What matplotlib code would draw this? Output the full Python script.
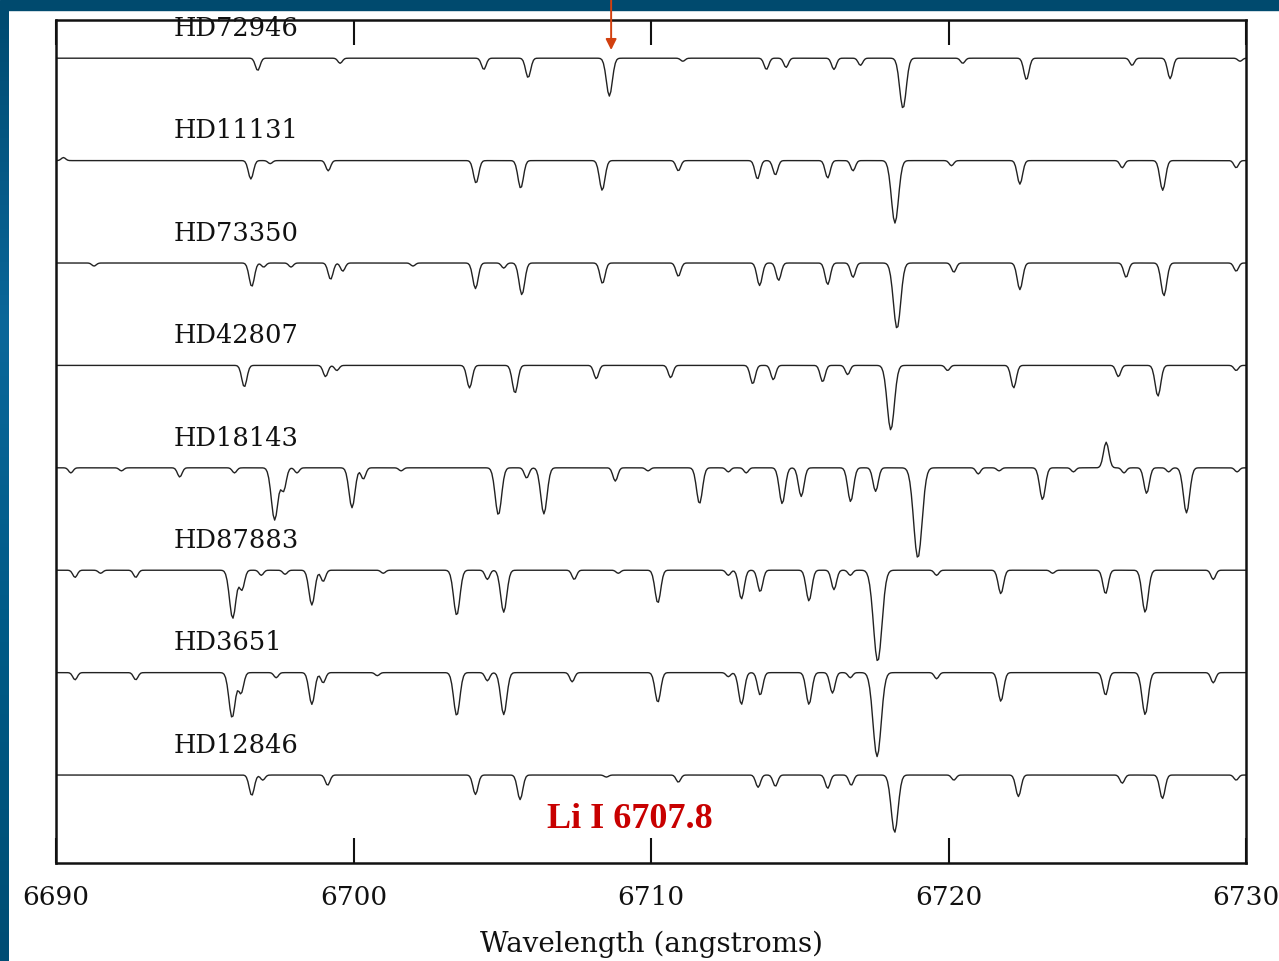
import numpy as np
import matplotlib
matplotlib.use('Agg')
import matplotlib.pyplot as plt
from matplotlib.colors import LinearSegmentedColormap

# star names, top to bottom
stars = ['HD72946', 'HD11131', 'HD73350', 'HD42807',
         'HD18143', 'HD87883', 'HD3651', 'HD12846']

# absorption lines per star: (wavelength in A, depth below continuum)
# negative depth = emission spike
lines_hd72946 = [(6696.78, 0.12), (6699.55, 0.05), (6704.38, 0.11), (6705.87, 0.19),
                 (6708.60, 0.37), (6711.07, 0.03), (6713.88, 0.11), (6714.54, 0.09),
                 (6716.15, 0.11), (6717.04, 0.07), (6718.47, 0.49), (6720.48, 0.05),
                 (6722.62, 0.21), (6726.17, 0.07), (6727.45, 0.20), (6729.80, 0.03)]
lines_hd11131 = [(6690.25, -0.03), (6696.55, 0.18), (6697.20, 0.03), (6699.15, 0.10),
                 (6704.12, 0.22), (6705.62, 0.27), (6708.36, 0.29), (6710.92, 0.10),
                 (6713.58, 0.18), (6714.18, 0.14), (6715.94, 0.17), (6716.79, 0.10),
                 (6718.20, 0.61), (6720.10, 0.05), (6722.40, 0.23), (6725.84, 0.07),
                 (6727.20, 0.29), (6729.67, 0.07)]
lines_hd73350 = [(6691.28, 0.03), (6696.58, 0.23), (6696.98, 0.04), (6697.90, 0.04),
                 (6699.23, 0.16), (6699.64, 0.08), (6702.00, 0.03), (6704.10, 0.25),
                 (6705.05, 0.05), (6705.66, 0.31), (6708.37, 0.20), (6710.92, 0.13),
                 (6713.65, 0.22), (6714.29, 0.17), (6715.94, 0.21), (6716.79, 0.14),
                 (6718.27, 0.64), (6720.18, 0.09), (6722.40, 0.26), (6725.97, 0.14),
                 (6727.24, 0.32), (6729.67, 0.08)]
lines_hd42807 = [(6696.33, 0.21), (6699.06, 0.11), (6699.44, 0.05), (6703.90, 0.22),
                 (6705.43, 0.27), (6708.16, 0.13), (6710.66, 0.12), (6713.42, 0.18),
                 (6714.11, 0.14), (6715.77, 0.16), (6716.61, 0.09), (6718.06, 0.63),
                 (6719.97, 0.05), (6722.19, 0.22), (6725.71, 0.11), (6727.04, 0.30),
                 (6729.67, 0.05)]
lines_hd18143 = [(6690.50, 0.05), (6692.20, 0.03), (6694.16, 0.09), (6696.00, 0.05),
                 (6697.35, 0.51), (6697.65, 0.22), (6698.10, 0.05), (6699.95, 0.39),
                 (6700.33, 0.11), (6701.60, 0.03), (6704.87, 0.46), (6705.82, 0.10),
                 (6706.40, 0.45), (6708.80, 0.13), (6709.90, 0.03), (6711.63, 0.35),
                 (6712.60, 0.04), (6713.20, 0.05), (6714.41, 0.35), (6715.05, 0.28),
                 (6716.71, 0.33), (6717.55, 0.23), (6718.97, 0.88), (6721.00, 0.06),
                 (6721.70, 0.03), (6723.16, 0.31), (6724.20, 0.04), (6725.30, -0.25),
                 (6725.90, 0.05), (6726.66, 0.25), (6727.40, 0.04), (6728.00, 0.44),
                 (6729.70, 0.04)]
lines_hd87883 = [(6690.64, 0.07), (6691.50, 0.03), (6692.68, 0.07), (6695.94, 0.47),
                 (6696.25, 0.19), (6696.90, 0.05), (6697.70, 0.04), (6698.60, 0.34),
                 (6698.98, 0.11), (6701.00, 0.03), (6703.47, 0.44), (6704.50, 0.09),
                 (6705.05, 0.41), (6707.42, 0.09), (6708.90, 0.03), (6710.23, 0.32),
                 (6712.60, 0.05), (6713.04, 0.28), (6713.67, 0.21), (6715.31, 0.30),
                 (6716.15, 0.19), (6716.70, 0.05), (6717.62, 0.89), (6719.60, 0.05),
                 (6721.76, 0.23), (6723.50, 0.03), (6725.28, 0.23), (6726.61, 0.41),
                 (6728.90, 0.09)]
lines_hd3651 = [(6690.64, 0.07), (6692.68, 0.07), (6695.92, 0.44), (6696.22, 0.20),
                (6697.40, 0.05), (6698.60, 0.31), (6698.98, 0.10), (6700.80, 0.03),
                (6703.47, 0.42), (6704.50, 0.08), (6705.05, 0.41), (6707.35, 0.09),
                (6710.23, 0.29), (6712.60, 0.04), (6713.04, 0.31), (6713.67, 0.22),
                (6715.31, 0.31), (6716.10, 0.20), (6716.70, 0.05), (6717.60, 0.82),
                (6719.60, 0.06), (6721.76, 0.28), (6725.28, 0.22), (6726.61, 0.41),
                (6728.90, 0.10)]
lines_hd12846 = [(6696.58, 0.20), (6696.95, 0.05), (6699.13, 0.10), (6704.10, 0.19),
                 (6705.60, 0.24), (6708.50, 0.02), (6710.92, 0.07), (6713.60, 0.12),
                 (6714.18, 0.11), (6715.94, 0.13), (6716.73, 0.10), (6718.19, 0.56),
                 (6720.18, 0.05), (6722.35, 0.21), (6725.84, 0.08), (6727.19, 0.23),
                 (6729.67, 0.05)]

line_lists = [lines_hd72946, lines_hd11131, lines_hd73350, lines_hd42807,
              lines_hd18143, lines_hd87883, lines_hd3651, lines_hd12846]

xticks = [6690, 6700, 6710, 6720, 6730]
li_wave = 6708.66


def spectrum(wave, lines):
    flux = np.ones_like(wave)
    for c, d in lines:
        s = 0.07 + 0.08 * abs(d)
        flux -= d * np.exp(-0.5 * ((wave - c) / s) ** 2)
    return flux


wave = np.arange(6690.0, 6730.0 + 1e-9, 0.05)

fig = plt.figure(figsize=(12.79, 9.61), dpi=100)
fig.patch.set_facecolor('white')

# slide frame: dark bar on top, gradient strip on the left
fig.add_artist(plt.Rectangle((0, 1 - 10 / 961), 1, 10 / 961, transform=fig.transFigure,
                             color='#004a6e', zorder=-2))
strip = fig.add_axes([0, 0, 8.5 / 1279, 1 - 10 / 961], zorder=-1)
cmap = LinearSegmentedColormap.from_list('slide', ['#004b71', '#0a679a', '#005a86', '#004d74'])
strip.imshow(np.linspace(0, 1, 200)[:, None], aspect='auto', cmap=cmap)
strip.axis('off')

ax = fig.add_axes([56 / 1279, 98 / 961, 1190 / 1279, 843 / 961])
serif = 'DejaVu Serif'

for i, (name, lines) in enumerate(zip(stars, line_lists)):
    off = 7 - i
    ax.plot(wave, spectrum(wave, lines) + off, color='#222222', lw=1.0)
    ax.text(6693.97, off + 1.29, name, fontsize=18.5, family=serif,
            ha='left', va='center', color='#111111')

ax.set_xlim(6690, 6730)
ax.set_ylim(0.141, 8.373)
ax.set_yticks([])
ax.set_xticks(xticks)
ax.set_xticklabels([str(t) for t in xticks], family=serif, fontsize=19)
ax.tick_params(axis='x', direction='in', length=18, width=1.5, top=True,
               pad=16, colors='#111111')
for sp in ax.spines.values():
    sp.set_linewidth(1.8)
    sp.set_color('#111111')

ax.set_xlabel('Wavelength (angstroms)', family=serif, fontsize=20, color='#111111')
ax.xaxis.set_label_coords(0.5, -0.0961)
ax.xaxis.label.set_va('center')

ax.text(6709.28, 0.561, 'Li I 6707.8', family='Liberation Serif', fontweight='bold',
        fontsize=26, color='#c80000', ha='center', va='center')

# arrow pointing at the Li line
ax.annotate('', xy=(li_wave, 8.08), xytext=(li_wave, 1.0),
            xycoords='data', textcoords=('data', 'figure fraction'),
            arrowprops=dict(arrowstyle='-|>', color='#d2400f', lw=1.4,
                            mutation_scale=16, shrinkA=0, shrinkB=0),
            annotation_clip=False)

fig.savefig('out.png', dpi=100)
